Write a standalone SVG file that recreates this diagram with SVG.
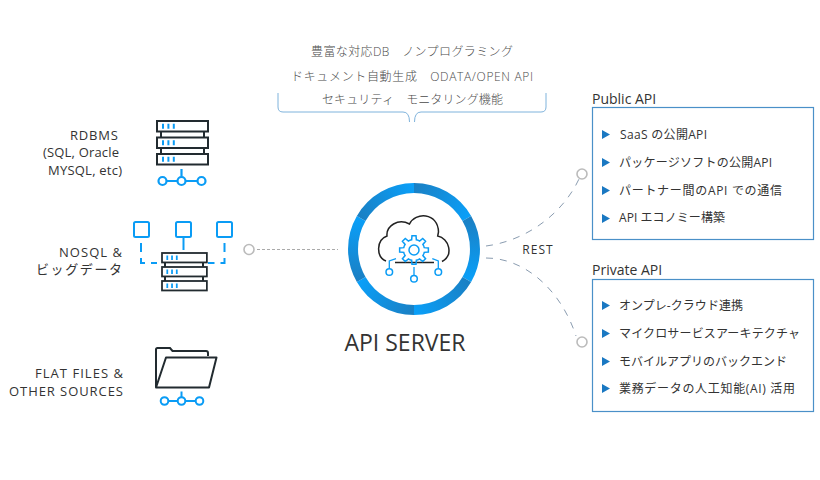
<svg xmlns="http://www.w3.org/2000/svg" width="820" height="480" viewBox="0 0 820 480">
<defs>
<style>
text{font-family:"Open Sans","Noto Sans CJK JP",sans-serif;fill:#333}
.l{font-size:13px;text-anchor:end}
.t{font-size:12px;fill:#4a4a4a;font-weight:300}
.h{font-size:14px}
.i{font-size:12px}
.box{fill:#fff;stroke:#4a90c8;stroke-width:1.2}
.bul{fill:#1a78c2}
.k{fill:#fff;stroke:#222b30;stroke-width:2}
.b{fill:none;stroke:#0a9cf5;stroke-width:2}
.bw{fill:#fff;stroke:#0a9cf5;stroke-width:1.500}
.d{fill:none;stroke:#8a9cb0;stroke-width:1;stroke-dasharray:7 7}
.c{fill:#fff;stroke:#bbb;stroke-width:1.6}
.dot{stroke:#0a9cf5;stroke-width:5;stroke-dasharray:2 3.4;fill:none}
.seg{fill:none;stroke-width:10}
</style>
<g id="srv"><rect x="0" y="0" width="51" height="10.500" class="k"/><path d="M5 5.250H19" class="dot"/></g>
<path id="tooth" class="b" style="stroke-width:1.500" d="M-4.020-9.700A10.500 10.500 0 0 1-2.360-10.230L-2.020-14.360H2.020L2.360-10.230A10.500 10.500 0 0 1 4.020-9.700"/>
<linearGradient id="s1" gradientUnits="userSpaceOnUse" x1="414" y1="188" x2="466.800" y2="218.500"><stop offset="0" stop-color="#1a80c4"/><stop offset="1" stop-color="#0a9ff8"/></linearGradient>
<linearGradient id="s2" gradientUnits="userSpaceOnUse" x1="466.800" y1="218.500" x2="466.800" y2="279.500"><stop offset="0" stop-color="#1a80c4"/><stop offset="1" stop-color="#0a9ff8"/></linearGradient>
<linearGradient id="s3" gradientUnits="userSpaceOnUse" x1="466.800" y1="279.500" x2="414" y2="310"><stop offset="0" stop-color="#1a80c4"/><stop offset="1" stop-color="#0a9ff8"/></linearGradient>
<linearGradient id="s4" gradientUnits="userSpaceOnUse" x1="414" y1="310" x2="361.200" y2="279.500"><stop offset="0" stop-color="#1a80c4"/><stop offset="1" stop-color="#0a9ff8"/></linearGradient>
<linearGradient id="s5" gradientUnits="userSpaceOnUse" x1="361.200" y1="279.500" x2="361.200" y2="218.500"><stop offset="0" stop-color="#1a80c4"/><stop offset="1" stop-color="#0a9ff8"/></linearGradient>
<linearGradient id="s6" gradientUnits="userSpaceOnUse" x1="361.200" y1="218.500" x2="414" y2="188"><stop offset="0" stop-color="#1a80c4"/><stop offset="1" stop-color="#0a9ff8"/></linearGradient>
</defs>
<rect width="820" height="480" fill="#fff"/>
<g id="connectors">
<path d="M257 249.500H338" fill="none" stroke="#aaa" stroke-width="1" stroke-dasharray="3 2"/>
<path class="d" d="M486 246C525 241 562 215 579 179"/>
<path class="d" d="M486 258C525 258 561 290 576 336"/>
<circle class="c" cx="249" cy="249.500" r="5"/>
<circle class="c" cx="582" cy="174" r="5"/>
<circle class="c" cx="582" cy="342" r="5"/>
</g>
<g id="top-features">
<text class="t" x="311" y="55.500" textLength="202">豊富な対応DB　ノンプログラミング</text>
<text class="t" x="291" y="80.500" textLength="242">ドキュメント自動生成　ODATA/OPEN API</text>
<text class="t" x="322" y="104" textLength="181">セキュリティ　モニタリング機能</text>
<path d="M278 93V107Q278 112 283 112H403Q409.500 112 409.500 122M546 93V107Q546 112 541 112H421Q414.500 112 414.500 122" fill="none" stroke="#7fb3dc" stroke-width="1"/>
</g>
<g id="rdbms">
<text class="l" x="118" y="140" textLength="48">RDBMS</text><text class="l" x="119" y="157" textLength="76">(SQL, Oracle</text><text class="l" x="122" y="175" textLength="74">MYSQL, etc)</text>
<path d="M161 131V138M204 131V138M161 148V154M204 148V154" class="k"/>
<use href="#srv" x="157" y="121"/><use href="#srv" x="157" y="137.500"/><use href="#srv" x="157" y="154"/>
<path d="M181.500 169V176.500M166.500 181H177.500M185.500 181H197.500" class="b" style="stroke-width:2.200"/>
<circle class="b" cx="162.500" cy="181" r="4" style="stroke-width:2.200"/><circle class="b" cx="181.500" cy="181" r="4" style="stroke-width:2.200"/><circle class="b" cx="201.500" cy="181" r="4" style="stroke-width:2.200"/>
</g>
<g id="nosql">
<text class="l" x="122" y="257" textLength="63">NOSQL &amp;</text><text class="l" x="122" y="274" textLength="86">ビッグデータ</text>
<rect class="b" x="134" y="222" width="15" height="15" rx="1.500"/><rect class="b" x="176" y="222" width="15" height="15" rx="1.500"/><rect class="b" x="217" y="222" width="15" height="15" rx="1.500"/>
<path d="M141 243V263H157" class="b" stroke-dasharray="9 6"/><path d="M224.500 243V263H208" class="b" stroke-dasharray="9 6"/><path d="M183.500 238V250" class="b"/>
<path d="M165 263V267M203 263V267M165 276V281M203 276V281" class="k"/>
<g transform="translate(162 253) scale(.88 .9)"><use href="#srv"/></g>
<g transform="translate(162 267) scale(.88 .9)"><use href="#srv"/></g>
<g transform="translate(162 281) scale(.88 .9)"><use href="#srv"/></g>
</g>
<g id="flat-files">
<text class="l" x="123" y="378" textLength="88">FLAT FILES &amp;</text><text class="l" x="123" y="396" textLength="114">OTHER SOURCES</text>
<path d="M156 387V349.500Q156 348 157.500 348H170L172.500 351H206Q208 351 208 353V356" fill="none" stroke="#222b30" stroke-width="2"/>
<path d="M156 387.500L166 357.500H216.500L209 387.500Z" fill="#fff" stroke="#222b30" stroke-width="2" stroke-linejoin="round"/>
<path d="M181.500 391.500V397M168 401H178M185.500 401H195.500" class="b"/>
<circle class="b" cx="164.500" cy="401" r="3.800"/><circle class="b" cx="181.500" cy="401" r="3.800"/><circle class="b" cx="199.500" cy="401" r="3.800"/>
</g>
<g id="api-server">
<circle cx="414" cy="249" r="56" fill="#fff"/>
<path class="seg" stroke="url(#s1)" d="M414 188A61 61 0 0 1 466.800 218.500"/>
<path class="seg" stroke="url(#s2)" d="M466.800 218.500A61 61 0 0 1 466.800 279.500"/>
<path class="seg" stroke="url(#s3)" d="M466.800 279.500A61 61 0 0 1 414 310"/>
<path class="seg" stroke="url(#s4)" d="M414 310A61 61 0 0 1 361.200 279.500"/>
<path class="seg" stroke="url(#s5)" d="M361.200 279.500A61 61 0 0 1 361.200 218.500"/>
<path class="seg" stroke="url(#s6)" d="M361.200 218.500A61 61 0 0 1 414 188"/>
<path d="M386 261C376 257 376 240 387 236C386 226 398 218 409.500 224C415 212 438 212 438.500 232L437.700 236C449 238 454 255 442 261.500" fill="none" stroke="#222" stroke-width="1.500"/>
<path d="M395 262.500H434" stroke="#222" stroke-width="1.500"/>
<g transform="translate(414 250)">
<circle r="11" fill="#fff"/>
<use href="#tooth"/><use href="#tooth" transform="rotate(45)"/><use href="#tooth" transform="rotate(90)"/><use href="#tooth" transform="rotate(135)"/><use href="#tooth" transform="rotate(180)"/><use href="#tooth" transform="rotate(225)"/><use href="#tooth" transform="rotate(270)"/><use href="#tooth" transform="rotate(315)"/>
<circle r="5" fill="#fff" stroke="#0a9cf5" stroke-width="1.500"/>
</g>
<path d="M396 258.700L389.300 261V268.500M414 267V275.300M432.300 258.700L438.300 261V268.500" fill="none" stroke="#0a9cf5" stroke-width="1.300"/>
<circle class="bw" cx="389.300" cy="272" r="3.300"/><circle class="bw" cx="414" cy="278.700" r="3.300"/><circle class="bw" cx="438.300" cy="272" r="3.300"/>
<text x="405" y="351" text-anchor="middle" style="font-size:23px">API SERVER</text>
</g>
<text x="538" y="254" text-anchor="middle" font-size="12" letter-spacing="1" id="rest">REST</text>
<g id="public-api">
<text class="h" x="592" y="104">Public API</text>
<rect class="box" x="592.500" y="107.500" width="221" height="132"/>
<path class="bul" d="M602 130l8 4.500-8 4.500zM602 158l8 4.500-8 4.500zM602 186l8 4.500-8 4.500zM602 214l8 4.500-8 4.500z"/>
<text class="i" x="620" y="139" textLength="87">SaaS の公開API</text>
<text class="i" x="619" y="167" textLength="153">パッケージソフトの公開API</text>
<text class="i" x="619" y="195" textLength="163">パートナー間のAPI での通信</text>
<text class="i" x="619" y="222" textLength="106">API エコノミー構築</text>
</g>
<g id="private-api">
<text class="h" x="592" y="275">Private API</text>
<rect class="box" x="592.500" y="279.500" width="221" height="132"/>
<path class="bul" d="M602 301l8 4.500-8 4.500zM602 329l8 4.500-8 4.500zM602 357l8 4.500-8 4.500zM602 384l8 4.500-8 4.500z"/>
<text class="i" x="619" y="310" textLength="124">オンプレ-クラウド連携</text>
<text class="i" x="619" y="338" textLength="181">マイクロサービスアーキテクチャ</text>
<text class="i" x="619" y="366" textLength="168">モバイルアプリのバックエンド</text>
<text class="i" x="619" y="393" textLength="176">業務データの人工知能(AI) 活用</text>
</g>
</svg>
